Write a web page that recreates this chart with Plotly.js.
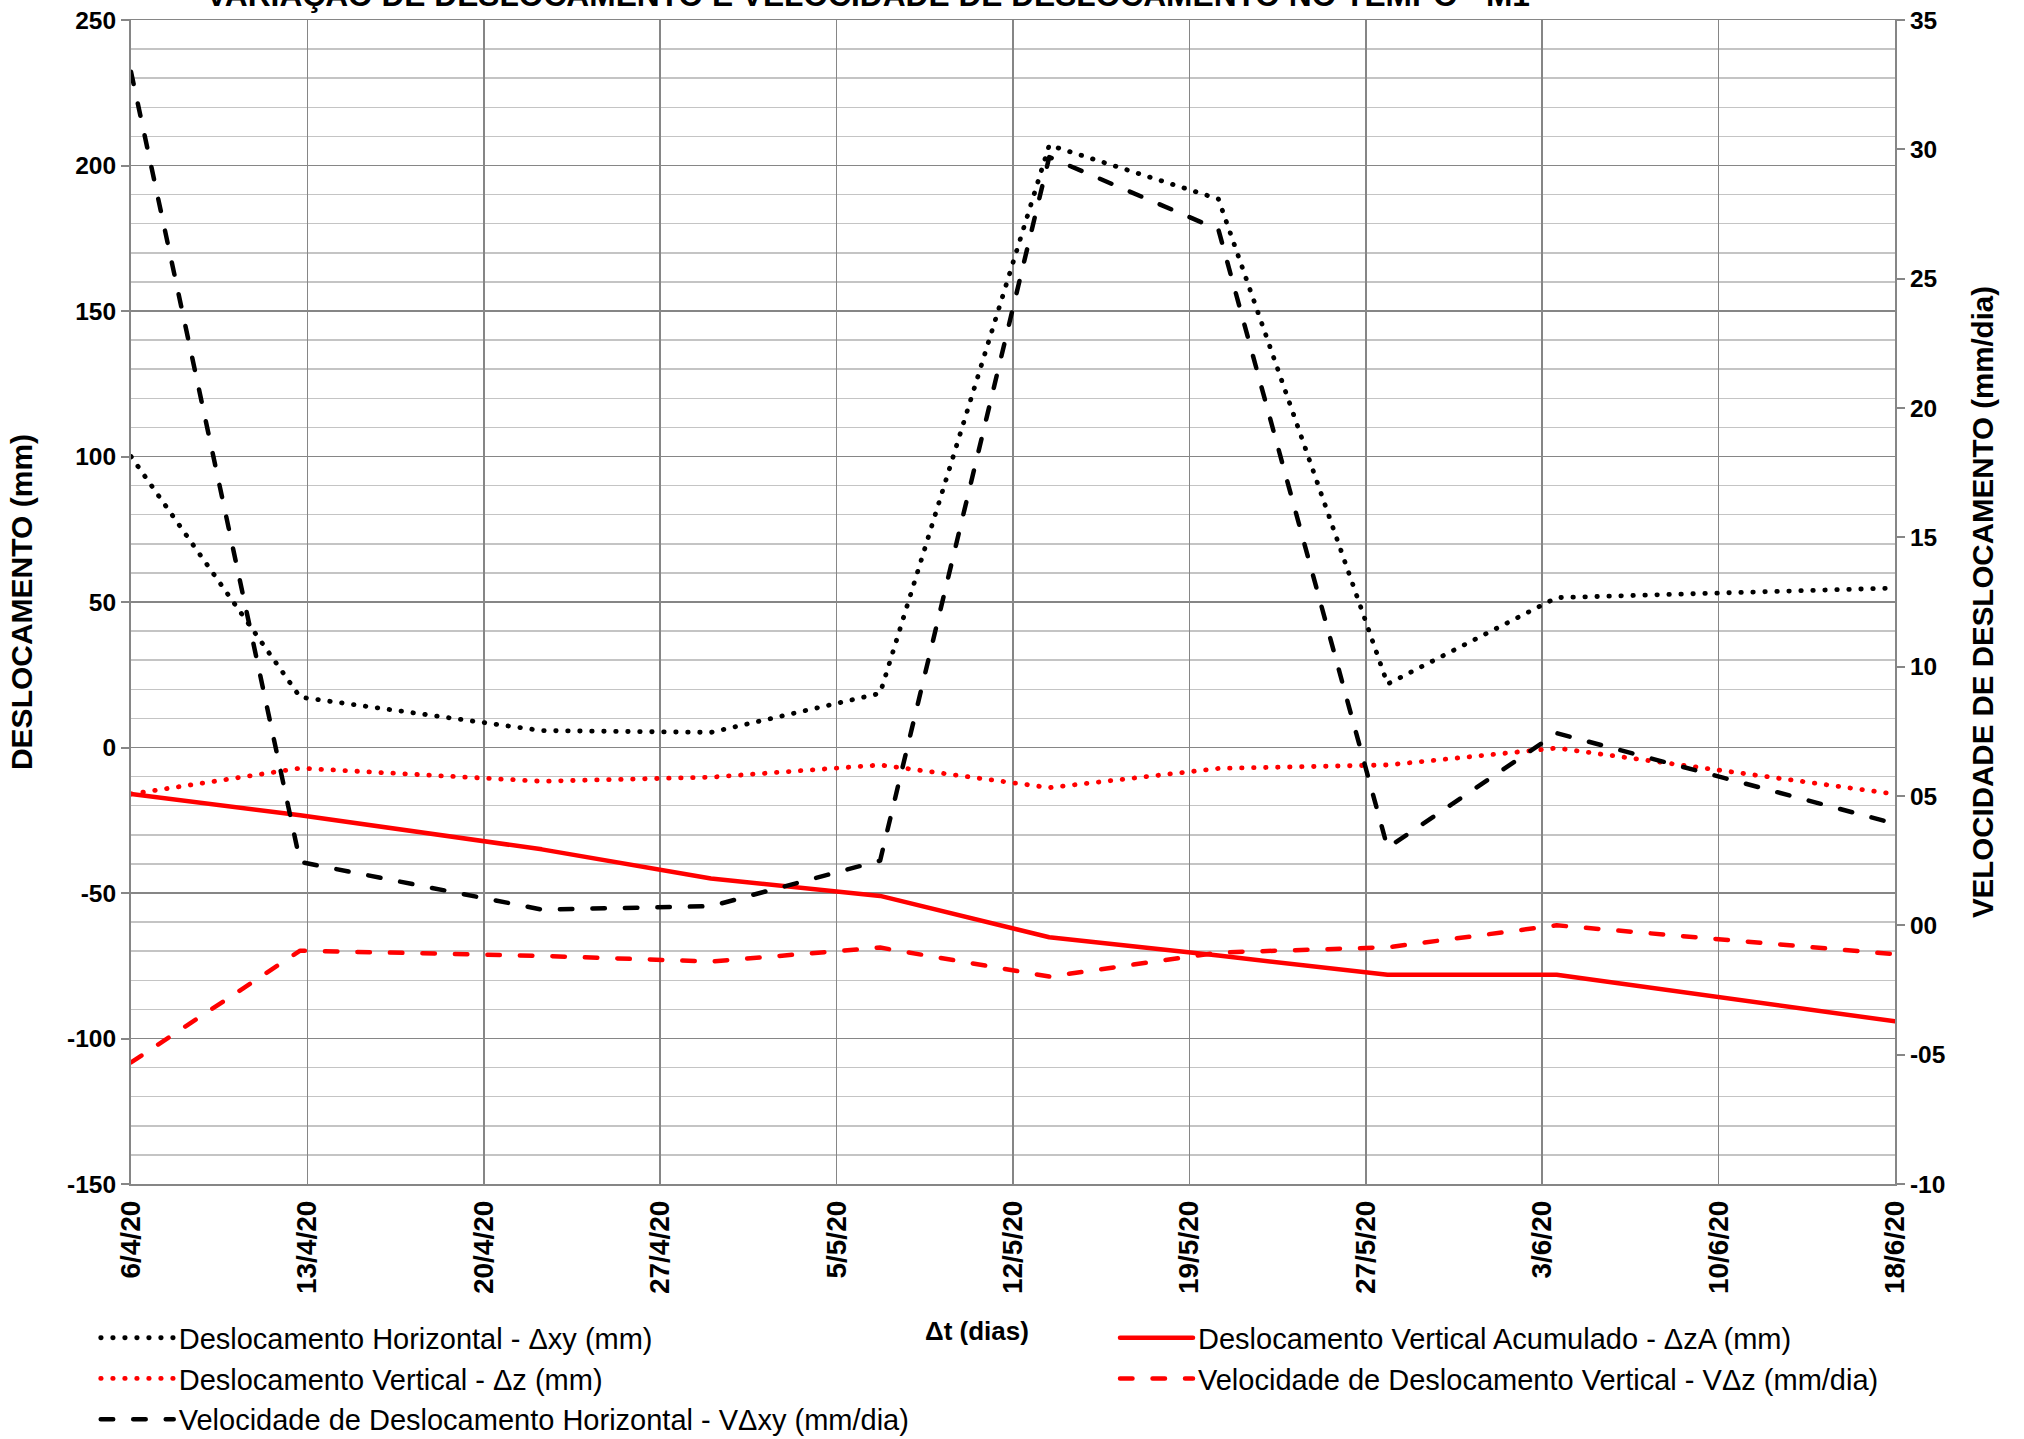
<!DOCTYPE html>
<html><head><meta charset="utf-8">
<script src="https://cdn.plot.ly/plotly-3.0.1.min.js"></script>
<style>html,body{margin:0;padding:0;background:#fff}#chart{width:2024px;height:1439px}
path.js-line{stroke-linecap:round;stroke-linejoin:round}</style>
</head><body><div id="chart"></div>
<script>
// ---- data ----
const dates = ['2020-04-06','2020-04-13','2020-04-23','2020-04-30','2020-05-07','2020-05-14','2020-05-21','2020-05-28','2020-06-04','2020-06-18'];
const deslocHorizontal = [100, 17.3, 5.8, 5.2, 18.6, 207, 188.5, 21.8, 51.5, 54.8];       // Δxy (mm)
const deslocVertical   = [-16, -7.1, -11.6, -10.2, -6.0, -13.8, -7.2, -6.0, -0.2, -16];    // Δz (mm)
const deslocVertAcum   = [-16, -23.3, -35, -45, -51, -65.2, -71.5, -78.1, -78.1, -94.1];   // ΔzA (mm)
const velHorizontal    = [33.0, 2.45, 0.61, 0.74, 2.5, 29.7, 26.9, 3.0, 7.43, 3.93];       // VΔxy (mm/dia)
const velVertical      = [-5.3, -0.98, -1.18, -1.4, -0.86, -1.98, -1.05, -0.85, 0.0, -1.12]; // VΔz (mm/dia)
const xTickLabels = ['6/4/20','13/4/20','20/4/20','27/4/20','5/5/20','12/5/20','19/5/20','27/5/20','3/6/20','10/6/20','18/6/20'];
const leftTickVals = [-150,-100,-50,0,50,100,150,200,250];
const leftTickText = ['-150','-100','-50','0','50','100','150','200','250'];
const rightTickVals = [-10,-5,0,5,10,15,20,25,30,35];
const rightTickText = ['-10','-05','00','05','10','15','20','25','30','35'];
const xStart = '2020-04-06', xEnd = '2020-06-18';

// ---- axis helpers ----
const t0 = Date.parse(xStart + 'T00:00:00Z'), t1 = Date.parse(xEnd + 'T00:00:00Z');
const nMajor = xTickLabels.length - 1;
const majorVals = xTickLabels.map((_, i) => t0 + i * (t1 - t0) / nMajor);
const minorVals = [];
for (let i = 0; i <= nMajor * 5; i++) minorVals.push(t0 + i * (t1 - t0) / (nMajor * 5));

const FONT = 'Liberation Sans, Arial, sans-serif';
const GRID = '#868686';
const DOT = '0.5px,11.5px', DASH = '12.5px,20px';

const traces = [
  {name:'Deslocamento Horizontal - Δxy (mm)', x:dates, y:deslocHorizontal, yaxis:'y', legend:'legend',
   mode:'lines', line:{color:'#000', width:4.8, dash:DOT}},
  {name:'Deslocamento Vertical - Δz (mm)', x:dates, y:deslocVertical, yaxis:'y', legend:'legend',
   mode:'lines', line:{color:'#ff0000', width:4.8, dash:DOT}},
  {name:'Velocidade de Deslocamento Horizontal - VΔxy (mm/dia)', x:dates, y:velHorizontal, yaxis:'y2', legend:'legend',
   mode:'lines', line:{color:'#000', width:4.5, dash:DASH}},
  {name:'Deslocamento Vertical Acumulado - ΔzA (mm)', x:dates, y:deslocVertAcum, yaxis:'y', legend:'legend2',
   mode:'lines', line:{color:'#ff0000', width:4.5}},
  {name:'Velocidade de Deslocamento Vertical - VΔz (mm/dia)', x:dates, y:velVertical, yaxis:'y2', legend:'legend2',
   mode:'lines', line:{color:'#ff0000', width:4.5, dash:DASH}}
];

const legendCommon = {orientation:'v', xanchor:'left', yanchor:'top', bgcolor:'rgba(0,0,0,0)',
  font:{family:FONT, size:29, color:'#000'}, itemwidth:73, tracegroupgap:0, traceorder:'normal'};

const PB = 1184.5, PH = 1164.8; // plot bottom pixel, plot height
const layout = {
  width:2024, height:1439,
  margin:{l:131, r:129, t:20, b:255, autoexpand:false},
  paper_bgcolor:'#fff', plot_bgcolor:'#fff',
  showlegend:true,
  title:{text:'VARIAÇÃO DE DESLOCAMENTO E VELOCIDADE DE DESLOCAMENTO NO TEMPO - M1',
    font:{family:FONT, size:31.7, color:'#000', weight:'bold'},
    xref:'paper', x:(868-131)/1764, xanchor:'center', yref:'container', y:1-6/1439, yanchor:'bottom'},
  xaxis:{type:'date', range:[t0, t1], tickmode:'array', tickvals:majorVals, ticktext:xTickLabels,
    tickangle:-90, tickfont:{family:FONT, size:28, color:'#000', weight:'bold'}, ticklabelstandoff:4,
    ticks:'', showgrid:true, gridcolor:GRID, gridwidth:1.5, zeroline:false,
    showline:true, linecolor:GRID, linewidth:1.5, mirror:true},
  xaxis2:{type:'date', overlaying:'x', anchor:'free', position:0.375, range:[t0, t1],
    tickmode:'array', tickvals:minorVals, showticklabels:false, ticks:'outside', ticklen:7,
    tickwidth:2, tickcolor:'#7a7a7a', showline:true, linecolor:'#7a7a7a', linewidth:2.5,
    showgrid:false, zeroline:false},
  yaxis:{range:[-150, 250], tickmode:'array', tickvals:leftTickVals, ticktext:leftTickText,
    ticks:'outside', ticklen:8, tickwidth:2, tickcolor:GRID,
    tickfont:{family:FONT, size:24.5, color:'#000', weight:'bold'},
    showline:true, linecolor:GRID, linewidth:2,
    showgrid:true, gridcolor:GRID, gridwidth:1.5, zeroline:false,
    minor:{dtick:10, showgrid:true, gridcolor:'#c4c4c4', gridwidth:1.5, ticks:''},
    title:{text:'DESLOCAMENTO (mm)', font:{family:FONT, size:30, color:'#000', weight:'bold'}, standoff:26}},
  yaxis2:{overlaying:'y', side:'right', range:[-10, 35], tickmode:'array', tickvals:rightTickVals, ticktext:rightTickText,
    ticks:'outside', ticklen:8, tickwidth:2, tickcolor:GRID,
    tickfont:{family:FONT, size:24.5, color:'#000', weight:'bold'},
    showline:true, linecolor:GRID, linewidth:2, showgrid:false, zeroline:false,
    title:{text:'VELOCIDADE DE DESLOCAMENTO (mm/dia)', font:{family:FONT, size:29.5, color:'#000', weight:'bold'}, standoff:28}},
  legend:Object.assign({}, legendCommon, {x:(95.7-131)/1764, y:-(1313-PB)/PH}),
  legend2:Object.assign({}, legendCommon, {x:(1115-131)/1764, y:-(1313-PB)/PH}),
  annotations:[
    {text:'Δt (dias)', xref:'paper', yref:'paper', x:(977-131)/1764, y:-(1332-PB)/PH,
     xanchor:'center', yanchor:'middle', showarrow:false,
     font:{family:FONT, size:26, color:'#000', weight:'bold'}}
  ]
};

Plotly.newPlot('chart', traces, layout, {displayModeBar:false, staticPlot:true});
</script>
</body></html>
